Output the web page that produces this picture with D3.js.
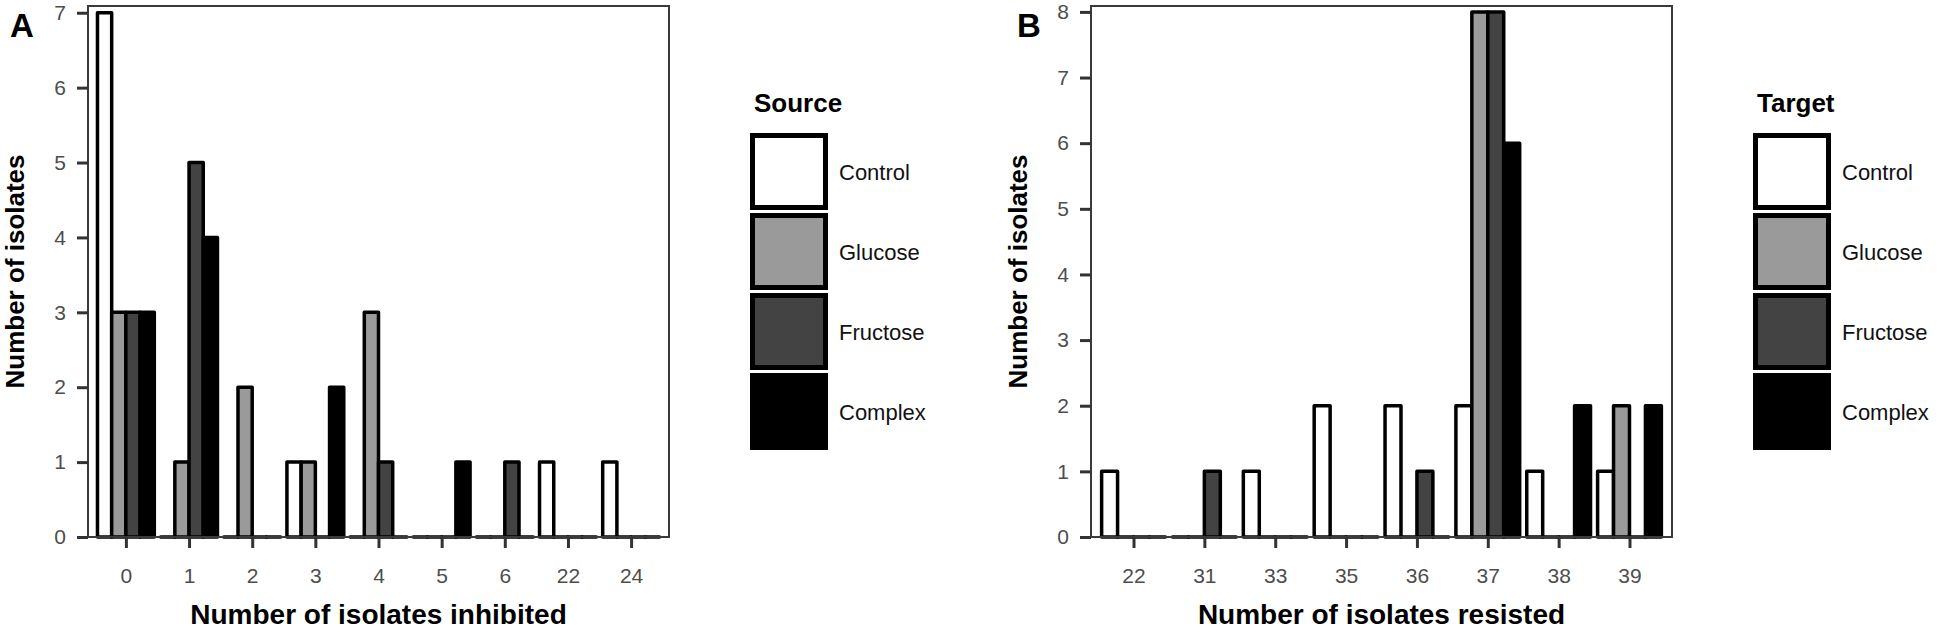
<!DOCTYPE html>
<html>
<head>
<meta charset="utf-8">
<script src="https://cdn.jsdelivr.net/npm/d3@7"></script>
<style>
  body { margin: 0; background: #fff; }
  text { font-family: "Liberation Sans", Arial, sans-serif; }
</style>
</head>
<body>
<main></main>
<script>
let svgWidth  = 1942;
let svgHeight = 630;

const groups = ['Control', 'Glucose', 'Fructose', 'Complex'];
const groupFills = ['#ffffff', '#9a9a9a', '#434343', '#000000'];

// panel A: number of isolates inhibited
const inhibitedCats     = ['0', '1', '2', '3', '4', '5', '6', '22', '24'];
const inhibitedControl  = [7, 0, 0, 1, 0, 0, 0, 1, 1];
const inhibitedGlucose  = [3, 1, 2, 1, 3, 0, 0, 0, 0];
const inhibitedFructose = [3, 5, 0, 0, 1, 0, 1, 0, 0];
const inhibitedComplex  = [3, 4, 0, 2, 0, 1, 0, 0, 0];

// panel B: number of isolates resisted
const resistedCats     = ['22', '31', '33', '35', '36', '37', '38', '39'];
const resistedControl  = [1, 0, 1, 2, 2, 2, 1, 1];
const resistedGlucose  = [0, 0, 0, 0, 0, 8, 0, 2];
const resistedFructose = [0, 1, 0, 0, 1, 8, 0, 0];
const resistedComplex  = [0, 0, 0, 0, 0, 6, 2, 2];

let plotTop    = 6;
let plotBottom = 537;
let plotLeft   = 88;
let plotRight  = 669;
let panelShift = 1003;

var svg;

function buildData(cats, series) {
  let data = [];
  cats.forEach(function(c, i) {
    groups.forEach(function(g, j) {
      data.push({ cat: c, group: g, value: series[j][i] });
    });
  });
  return data;
};

function drawPanel(opts) {
  let off = opts.offset;
  let g = svg.append('g').attr('transform', 'translate(' + off + ',0)');

  let maxVal = d3.max(opts.data, function(d) { return d.value; });

  let x = d3.scalePoint()
    .domain(opts.cats)
    .range([plotLeft, plotRight])
    .padding(0.6);

  let dodge = d3.scaleBand()
    .domain(groups)
    .range([-0.45 * x.step(), 0.45 * x.step()]);

  let y = d3.scaleLinear()
    .domain([0, maxVal + 0.09])
    .range([plotBottom, plotTop]);

  let fill = d3.scaleOrdinal().domain(groups).range(groupFills);

  // bars (zero counts still leave an outline on the baseline)
  g.append('g')
    .selectAll('path')
    .data(opts.data)
    .enter()
      .append('path')
      .attr('d', function(d) {
        let x0 = x(d.cat) + dodge(d.group);
        let x1 = x0 + dodge.bandwidth();
        let y0 = y(0), y1 = y(d.value);
        return 'M' + x0 + ',' + y0 + 'V' + y1 + 'H' + x1 + 'V' + y0 + 'Z';
      })
      .attr('fill', function(d) { return fill(d.group); })
      .attr('stroke', '#000')
      .attr('stroke-width', 3.5)
      .attr('stroke-linejoin', 'round')
  ;

  // panel frame
  g.append('rect')
    .attr('x', plotLeft)
    .attr('y', plotTop)
    .attr('width', plotRight - plotLeft)
    .attr('height', plotBottom - plotTop)
    .attr('fill', 'none')
    .attr('stroke', '#3a3a3a')
    .attr('stroke-width', 2)
  ;

  let xAxis = g.append('g')
    .attr('transform', 'translate(0,' + plotBottom + ')')
    .call(d3.axisBottom(x).tickSize(11).tickPadding(20));

  let yAxis = g.append('g')
    .attr('transform', 'translate(' + plotLeft + ',0)')
    .call(d3.axisLeft(y).ticks(maxVal).tickFormat(d3.format('d')).tickSize(11).tickPadding(11));

  [xAxis, yAxis].forEach(function(a) {
    a.select('.domain').remove();
    a.selectAll('.tick line').attr('stroke', '#333').attr('stroke-width', 3);
    a.selectAll('.tick text')
      .attr('fill', '#4d4d4d')
      .attr('font-size', '21px')
      .style('font-family', '"Liberation Sans", Arial, sans-serif');
  });

  // axis titles
  g.append('text')
    .attr('x', (plotLeft + plotRight) / 2)
    .attr('y', 624)
    .attr('text-anchor', 'middle')
    .attr('font-size', '28px')
    .attr('font-weight', 'bold')
    .text(opts.xTitle);

  g.append('text')
    .attr('transform', 'translate(24,' + ((plotTop + plotBottom) / 2) + ') rotate(-90)')
    .attr('text-anchor', 'middle')
    .attr('font-size', '26px')
    .attr('font-weight', 'bold')
    .text('Number of isolates');

  // panel tag
  g.append('text')
    .attr('x', opts.tagX)
    .attr('y', 37)
    .attr('font-size', '33px')
    .attr('font-weight', 'bold')
    .text(opts.tag);

  // legend
  let legend = g.append('g').attr('transform', 'translate(750,0)');

  legend.append('text')
    .attr('x', 4)
    .attr('y', 112)
    .attr('font-size', '26px')
    .attr('font-weight', 'bold')
    .text(opts.legendTitle);

  let keys = legend.selectAll('g.key')
    .data(groups)
    .enter()
      .append('g')
      .attr('class', 'key')
      .attr('transform', function(d, i) { return 'translate(0,' + (133 + 80 * i) + ')'; });

  keys.append('rect')
    .attr('x', 2.5)
    .attr('y', 2.5)
    .attr('width', 73)
    .attr('height', 72)
    .attr('fill', function(d) { return fill(d); })
    .attr('stroke', '#000')
    .attr('stroke-width', 5);

  keys.append('text')
    .attr('x', 89)
    .attr('y', 39)
    .attr('dy', '0.35em')
    .attr('font-size', '22px')
    .attr('fill', '#111')
    .text(function(d) { return d; });
};

document.addEventListener('DOMContentLoaded', function() {
  svg = d3
    .select('body main')
    .append('svg')
    .attr('width', svgWidth)
    .attr('height', svgHeight)
    .style('display', 'block')
  ;

  svg.append('rect')
    .attr('width', svgWidth)
    .attr('height', svgHeight)
    .attr('fill', '#fff');

  drawPanel({
    offset: 0,
    tag: 'A',
    tagX: 10,
    cats: inhibitedCats,
    data: buildData(inhibitedCats, [inhibitedControl, inhibitedGlucose, inhibitedFructose, inhibitedComplex]),
    xTitle: 'Number of isolates inhibited',
    legendTitle: 'Source'
  });

  drawPanel({
    offset: panelShift,
    tag: 'B',
    tagX: 14,
    cats: resistedCats,
    data: buildData(resistedCats, [resistedControl, resistedGlucose, resistedFructose, resistedComplex]),
    xTitle: 'Number of isolates resisted',
    legendTitle: 'Target'
  });
});
</script>
</body>
</html>
